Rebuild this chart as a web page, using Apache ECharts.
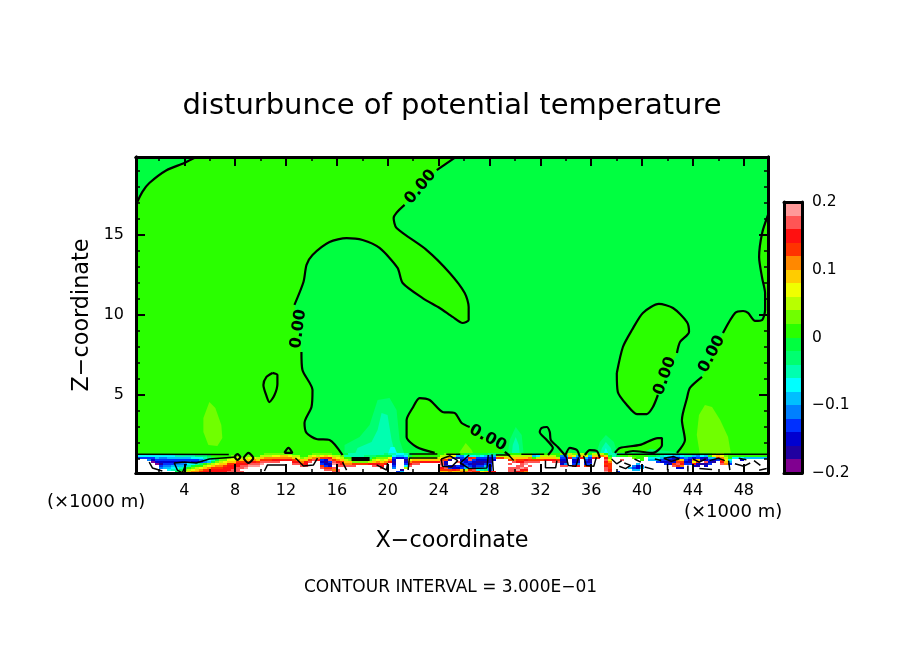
<!DOCTYPE html>
<html lang="en">
<head>
  <meta charset="UTF-8">
  <title>disturbunce of potential temperature</title>
  <script src="https://cdn.jsdelivr.net/npm/echarts@6/dist/echarts.min.js"></script>
  <style>
    html, body { margin: 0; padding: 0; background: #ffffff; }
    #chart { width: 904px; height: 654px; }
  </style>
</head>
<body>
  <div id="chart"></div>

  <script>
    const chart = echarts.init(document.getElementById('chart'), null, { renderer: 'canvas' });

    const FONT = 'DejaVu Sans';

    // axis extents and ticks (x and z in km)
    const xRange = [0.2, 49.9];
    const zRange = [0.125, 19.875];
    const xMajor = [4, 8, 12, 16, 20, 24, 28, 32, 36, 40, 44, 48];
    const xMinor = [2, 6, 10, 14, 18, 22, 26, 30, 34, 38, 42, 46];
    const zMajor = [5, 10, 15];
    const zMinor = [1, 2, 3, 4, 6, 7, 8, 9, 11, 12, 13, 14, 16, 17, 18, 19];

    // colour levels, lowest first, 0.02 wide each
    const levelBounds = [-0.2, -0.18, -0.16, -0.14, -0.12, -0.1, -0.08, -0.06, -0.04, -0.02, 0,
      0.02, 0.04, 0.06, 0.08, 0.1, 0.12, 0.14, 0.16, 0.18, 0.2];
    const levelColors = ['#800090', '#2000a0', '#0000d0', '#0030ff', '#0080ff', '#00bfff', '#00ffff',
      '#00ffb0', '#00ff70', '#00ff40', '#2aff00', '#70ff00', '#b8ff00', '#f0ff00', '#ffcc00',
      '#ff8800', '#ff3300', '#ff1010', '#ff5555', '#ff9999'];
    const colorbarTicks = [-0.2, -0.1, 0, 0.1, 0.2];

    // zero contours, [x, z]
    const contourCorner = [[0.2, 16.9], [0.7, 17.7], [1.25, 18.25], [2.6, 19.05], [4, 19.5], [5, 19.9]];
    const contourLobeTop = [[25.4, 19.9], [23.85, 19.05]];
    const contourLobe = [[21.32, 16.88], [20.46, 16.06], [20.69, 15.44], [23.06, 14.06], [24.87, 12.63],
      [26.05, 11.38], [26.36, 10.5], [26.36, 9.69], [25.89, 9.5], [25.1, 9.88], [24.08, 10.44],
      [22.74, 11.06], [21.17, 12], [20.77, 12.94], [19.35, 14.19], [18.02, 14.69], [16.76, 14.81],
      [15.42, 14.56], [14.08, 13.75], [13.61, 13.13], [13.37, 12.06], [12.66, 10.63]];
    const contourLobeLow = [[13.21, 7.69], [13.29, 6.56], [14.08, 5.31], [14, 4.25], [13.45, 3.25],
      [13.61, 2.63], [14.39, 2.25], [15.42, 2.19], [16.44, 1.25]];
    const contourIsle = [[10.93, 6.38], [11.32, 6.25], [11.32, 5.69], [11.09, 5], [10.69, 4.56],
      [10.46, 4.94], [10.22, 5.63], [10.46, 6.13], [10.93, 6.38]];
    const contourMid = [[23.69, 1.38], [22.27, 1.75], [21.48, 2.38], [21.48, 3.44], [21.95, 4.19],
      [22.5, 4.81], [23.29, 4.69], [24.31, 3.94], [25.26, 3.88], [25.81, 3.25], [26.44, 3]];
    const contourMidEnd = [[29.2, 1.44], [29.6, 1.2]];
    const contourWiggle = [[33.92, 1.25], [33.37, 1.75], [32.82, 2.19], [32.74, 2.69], [32.5, 3],
      [32.11, 2.94], [31.95, 2.69], [32.5, 2.19], [32.98, 1.69], [32.6, 1.25]];
    const contourArcA = [[33.92, 1.13], [34.32, 1.69], [34.87, 1.56], [35.1, 1.13]];
    const contourArcB = [[35.5, 1.25], [35.89, 1.56], [36.44, 1.5], [36.68, 1.06]];
    const contourOvalTop = [[38.01, 6.38], [38.49, 8], [39.2, 9.06], [40.06, 10.13], [41.32, 10.69],
      [42.43, 10.44], [43.53, 9.56], [43.69, 8.94], [42.98, 8.31], [42.74, 7.63]];
    const contourOvalLow = [[41.24, 5], [40.85, 4.25], [40.37, 3.81], [39.59, 3.81], [38.8, 4.38],
      [38.09, 5.19], [38.01, 6.38]];
    const contourRightTop = [[49.9, 16.25], [49.44, 15.13], [49.2, 13.63], [49.44, 12.31], [49.67, 11.38],
      [49.67, 10.31], [49.44, 9.69], [48.88, 9.63], [48.33, 10.13], [47.94, 10.25], [47.31, 10.13],
      [46.36, 8.88]];
    const contourRightLow = [[44.71, 6.13], [43.76, 5.44], [43.53, 4.81], [43.13, 3.44], [43.37, 2.19],
      [42.74, 1.38]];
    const contourFoot = [[37.86, 1.38], [38.25, 1.69], [39.83, 1.88], [41.24, 2.31], [41.56, 2.31],
      [41.56, 1.88], [40.85, 1.38], [39.28, 1.5], [38.65, 1.38]];
    const contourBumpA = [[11.87, 1.38], [12.19, 1.69], [12.5, 1.38], [11.87, 1.38]];
    const contourBumpB = [[7.94, 1.13], [8.17, 1.31], [8.41, 1.13], [8.17, 0.94], [7.94, 1.13]];
    const contourBumpC = [[8.65, 1.06], [9.04, 1.38], [9.43, 1.06], [9.04, 0.75], [8.65, 1.06]];

    // labels on the contours: x, z, angle
    const contourLabels = [[22.58, 18, 50], [12.98, 9.13, 82], [27.86, 2.31, -28], [41.8, 6.19, 70], [45.48, 7.56, 62]];

    // weak blobs above the surface layer
    const blobLeftWarm = [[5.97, 4.56], [6.44, 4.19], [6.91, 3.13], [6.99, 2.31], [6.6, 1.81], [5.89, 1.88], [5.5, 2.69], [5.5, 3.56]];
    const blobRightWarm = [[44.94, 4.38], [45.5, 4.25], [46.14, 3.44], [46.76, 2.38], [47, 1.25], [44.55, 1.25], [44.3, 2.5], [44.47, 3.75]];
    const blobMidWarm = [[26.13, 2], [26.6, 1.56], [26.76, 1.25], [25.5, 1.25]];
    const blobCoolA1 = [[19.2, 4.69], [20.14, 4.81], [20.69, 4.06], [20.93, 2.19], [21.32, 1.25], [16.6, 1.25], [16.6, 1.88], [17.78, 2.38], [18.57, 3.13]];
    const blobCoolA2 = [[19.51, 3.88], [19.98, 3.75], [20.3, 2.19], [20.61, 1.25], [17.39, 1.25], [17.62, 1.69], [18.72, 2.06], [19.2, 2.81]];
    const blobCoolA3 = [[20.22, 1.75], [20.53, 1.75], [20.77, 1.25], [19.98, 1.25]];
    const blobCoolB1 = [[30.06, 3], [30.53, 2.5], [30.69, 1.25], [29.43, 1.25], [29.59, 2.19]];
    const blobCoolB2 = [[30.06, 2.38], [30.3, 1.88], [30.38, 1.25], [29.75, 1.25], [29.83, 1.88]];
    const blobCoolC1 = [[37.15, 2.5], [37.78, 2.06], [38.09, 1.25], [36.36, 1.25], [36.68, 2.06]];
    const blobCoolC2 = [[37.15, 2.06], [37.54, 1.69], [37.7, 1.25], [36.68, 1.25], [36.84, 1.69]];
    const blobCoolC3 = [[37.15, 1.69], [37.4, 1.25], [36.92, 1.25]];
    const blobCoolD = [[40.6, 1.63], [42.6, 1.44], [42.66, 1.25], [39.83, 1.25]];

    // surface layer: one string per column, top to bottom, a = lowest level, t = highest, . = off scale
    const layerX0 = 0.15;
    const layerDx = 0.315;
    const layerZTop = 1.375;
    const layerDz = 0.125;
    const layerColumns = [
      'kgd.......', 'kgd.......', 'kgd.......', 'kgde......', 'kgdca.....', 'kgfdca....', 'kgedcbde..', 'kgedcdef..',
      'kgfdcdefg.', 'kgfdcdfgh.', 'khfdcefghj', 'khfdcefhjl', 'khfddefjlm', 'khfddghkmo', 'khgdcgjlnp', 'kigdchkmop',
      'kigediknpq', 'kihfekmoqr', 'kjigflnpqr', 'kkjhjmoqrr', 'kkkjlnpqrr', 'kkklmopqrr', 'kkklnoqrrr', 'kklnoqrrrs',
      'klmnoqrrss', 'klnoqrrsss', 'kkmoqrss.s', 'klmoqrst..', 'klnoqst...', 'kknprst...', 'kkmoqst...', 'kmoqst....',
      'lmpqs.....', 'lmpqs.....', 'lnprs.....', 'lnprs.....', 'lopr......', 'lopr......', 'lnpr......', 'kmoqrs....',
      'kmnprs....', 'kklopqs...', 'kkmorrs...', 'kmoqs.....', 'lnps......', 'lmpr......', 'lnqdcdqs..', 'loqcbcdqs.',
      'lnrsdbcqs.', 'kmoqst.sps', 'kmnprss.ss', 'jlmoqrs...', 'jhkmops...', 'hhklops...', 'hhhjlqs...', 'hhhjlq....',
      'hhijlq....', 'hiiklq....', 'hiikmr....', 'hikmors...', 'hjlnprs...', 'hjlmoqrs..', 'ijlnpr....', 'hjnpr.....',
      'hgdcbcde..', 'gfc......d', 'gfc.....bf', 'hgdbcdgm..', 'ijlnprs...', 'jkmoqs....', 'kkmoqs....', 'kkmor.....',
      'kkmor.....', 'kkmor.....', 'kkmor.....', 'kkmor.....', 'kmnqsstrqo', 'lmoqcbdsqo', 'lnpb..cdqp', 'lnd...bcro',
      'kfb.s.dcqo', 'kedcdbcdop', 'jgeccdefmp', 'jgrsdcdfqs', 'jgqdcbcdsq', 'jhdcbcdfgq', 'jgdcbbdfhn', 'jfdcbdfgio',
      'iecbbdcddr', 'ifdc.....r', 'jmq.......', 'jmq.......', 'kmo.......', 'kmoq.s.sss', 'kmops..sss', 'kmoqr.sstr',
      'kmoqrsstrq', 'kmorst.srp', 'kmpqs.s...', 'ifkqs.....', 'jgmqs.....', 'kmoq......', 'kmor......', 'kmor......',
      'kmors.....', 'kkmqs.....', 'ledcbcs...', 'lfdcbes...', 'mor.......', 'lneccdr...', 'lfdbcer...', 'mor.......',
      'lnfdcdq...', 'kfdbbdq...', 'mor.......', 'mor.......', 'mp........', 'korsrqrsst', 'hjlnpqqqrq', 'hh........',
      'hj.......d', 'hk.s......', 'jk........', 'jl.....f..', 'jkl...edf.', 'jkk..fccf.', 'jkkk..ef..', 'jk........',
      'jjgf......', 'jjgf......', 'jigfd.....', 'jhfdc.....', 'jgedcd....', 'jgdcbc....', 'jfcbcqs...', 'jfcpqsqc..',
      'jgdoqrpc..', 'jhedcd....', 'khdcbd....', 'kfcpnrc...', 'kedoqcb...', 'kgcb.b....', 'kfbcsbc...', 'kkfdcd....',
      'lnfcb.....', 'moqd......', 'mnpqrs....', 'klmnop....', 'kkkgfd....', 'kkg.......', 'kkg.......', 'kkgc......',
      'kkf.......', 'kkf.......', 'kkf.......', 'kkf.......', 'kkf.......', 'kkf.......'
    ];

    // short contour bits inside the surface layer
    const layerLines = [
      [[0.2, 1.3], [7.5, 1.28]],
      [[8.09, 1.13], [5.97, 1], [4.94, 0.75], [4, 0.81], [3.21, 0.75], [3.45, 0.31], [3.84, 0.13], [4.15, 0.69]],
      [[1.24, 0.81], [1.49, 0.44], [2.27, 0.25]],
      [[10.3, 0.25], [10.54, 0.63], [12.03, 0.63]],
      [[12.74, 1.06], [13.37, 0.56], [14.16, 0.63], [14.47, 1.06]],
      [[16.44, 0.81], [16.76, 0.31]],
      [[19.12, 0.63], [19.9, 0.31], [19.98, 0.75]],
      [[21.6, 0.31], [21.7, 1.06], [23.9, 1.06]],
      [[21.7, 1.31], [23.9, 1.31]],
      [[24.6, 1.3], [25.7, 1.3]],
      [[26.4, 1.25], [25.7, 0.75], [26.4, 0.4], [27.8, 0.44], [27.9, 1.25]],
      [[24.2, 1], [24.9, 1.2], [25.5, 0.9], [25, 0.5], [24.3, 0.55], [24.2, 1]],
      [[28.2, 1.3], [28.3, 0.25]],
      [[28.5, 1.25], [29.5, 1.25], [29.9, 0.9]],
      [[30.5, 1.3], [32.3, 1.3]],
      [[32.4, 0.9], [32.4, 0.45], [33.2, 0.45], [33.3, 0.9]],
      [[34, 1.2], [34.2, 0.6], [34.8, 0.55], [35, 1.1]],
      [[35.4, 1.2], [35.6, 0.6], [36.2, 0.55], [36.4, 1.1]],
      [[38, 1.3], [49.9, 1.3]],
      [[37.6, 1], [38, 0.7], [38.4, 0.9]],
      [[38.2, 0.55], [38.7, 0.4], [39.1, 0.6], [38.6, 0.75]],
      [[39.4, 1], [39.9, 0.8]],
      [[40.2, 0.5], [40.9, 0.35]],
      [[41, 1], [41.5, 0.9]],
      [[42, 0.7], [42, 0.3]],
      [[41.7, 1.05], [42.3, 0.85], [42.9, 1], [42.5, 1.15], [41.7, 1.05]],
      [[43.6, 0.6], [43.6, 0.2]],
      [[44, 1], [44.5, 0.8], [45, 1]],
      [[44.5, 0.4], [45.5, 0.35]],
      [[45.3, 0.9], [46, 1.05], [46.5, 0.9]],
      [[46.8, 0.9], [46.9, 0.3]],
      [[47.3, 0.7], [48, 0.55], [48.5, 0.75]],
      [[47.6, 1.05], [48.2, 0.95]],
      [[48.8, 0.9], [49.3, 0.6]],
      [[49.2, 0.3], [49.8, 0.4]]
    ];
    const layerBars = [[[17.15, 1], [18.57, 1]]];

    // level indexes into levelColors
    const WARM = 10, WARM2 = 11, COOL1 = 8, COOL2 = 7, COOL3 = 6;

    const fillRegions = [
      { level: WARM, pts: [...contourCorner, ...contourLobeTop, ...contourLobe, ...contourLobeLow, [16.44, 0.5], [0.2, 0.5]] },
      { level: WARM, pts: [...contourMid, ...contourMidEnd, [29.6, 0.5], [23.69, 0.5]] },
      { level: WARM, pts: [...contourOvalTop, ...contourOvalLow] },
      { level: WARM, pts: [...contourRightTop, ...contourRightLow, [42.74, 0.5], [49.9, 0.5]] },
      { level: WARM, pts: contourFoot },
      { level: WARM2, pts: blobLeftWarm },
      { level: WARM2, pts: blobRightWarm },
      { level: WARM2, pts: blobMidWarm },
      { level: COOL1, pts: blobCoolA1 },
      { level: COOL2, pts: blobCoolA2 },
      { level: COOL3, pts: blobCoolA3 },
      { level: COOL1, pts: blobCoolB1 },
      { level: COOL2, pts: blobCoolB2 },
      { level: COOL1, pts: blobCoolC1 },
      { level: COOL2, pts: blobCoolC2 },
      { level: COOL3, pts: blobCoolC3 },
      { level: COOL1, pts: blobCoolD }
    ];

    const contourGroups = [contourCorner, contourLobeTop, contourLobe, contourLobeLow, contourIsle, contourMid,
      contourMidEnd, contourWiggle, contourArcA, contourArcB, contourOvalTop, contourOvalLow, contourRightTop,
      contourRightLow, contourFoot, contourBumpA, contourBumpB, contourBumpC];

    function withGaps(groups) {
      const out = [];
      groups.forEach(g => { out.push(...g); out.push([null, null]); });
      return out;
    }

    const layerCells = [];
    layerColumns.forEach((col, i) => {
      for (let r = 0; r < col.length; r++) {
        const ch = col[r];
        layerCells.push([layerX0 + i * layerDx, layerZTop - r * layerDz, ch === '.' ? -1 : ch.charCodeAt(0) - 97]);
      }
    });

    // all four sides of a frame, ticks pointing inward
    function frameAxis(pos, gridIndex, range, ticks, tickLen, extra) {
      return Object.assign({
        type: 'value', gridIndex: gridIndex, position: pos, min: range[0], max: range[1], z: 10,
        splitLine: { show: false },
        axisLine: { show: true, onZero: false, lineStyle: { color: '#000', width: 3 } },
        axisTick: ticks.length
          ? { show: true, inside: true, length: tickLen, customValues: ticks, lineStyle: { color: '#000', width: tickLen > 5 ? 2 : 1.5 } }
          : { show: false },
        axisLabel: { show: false }
      }, extra || {});
    }

    const tickText = { show: true, color: '#000', fontFamily: FONT, fontSize: 16, padding: [3, 0, 0, 0] };

    const option = {
      animation: false,
      backgroundColor: '#ffffff',
      title: {
        text: 'disturbunce of potential temperature',
        left: 447, top: 87, textAlign: 'center',
        textStyle: { color: '#000', fontFamily: FONT, fontWeight: 'normal', fontSize: 29 }
      },
      grid: [
        { left: 136, top: 157, width: 632, height: 316, show: true, backgroundColor: levelColors[9], borderWidth: 0 },
        { left: 784, top: 202, width: 18, height: 271 }
      ],
      xAxis: [
        frameAxis('bottom', 0, xRange, xMajor, 9, {
          name: 'X\u2212coordinate', nameLocation: 'middle', nameGap: 57,
          nameTextStyle: { color: '#000', fontFamily: FONT, fontSize: 22.3 },
          axisLabel: Object.assign({ customValues: xMajor, margin: 7 }, tickText)
        }),
        frameAxis('bottom', 0, xRange, xMinor, 4),
        frameAxis('top', 0, xRange, xMajor, 9),
        frameAxis('top', 0, xRange, xMinor, 4),
        frameAxis('bottom', 1, [0, 1], [], 0),
        frameAxis('top', 1, [0, 1], [], 0)
      ],
      yAxis: [
        frameAxis('left', 0, zRange, zMajor, 9, {
          name: 'Z\u2212coordinate', nameLocation: 'middle', nameGap: 40,
          nameTextStyle: { color: '#000', fontFamily: FONT, fontSize: 22.3 },
          axisLabel: Object.assign({ customValues: zMajor, margin: 12 }, tickText)
        }),
        frameAxis('left', 0, zRange, zMinor, 4),
        frameAxis('right', 0, zRange, zMajor, 9),
        frameAxis('right', 0, zRange, zMinor, 4),
        frameAxis('left', 1, [-0.2, 0.2], [], 0),
        frameAxis('right', 1, [-0.2, 0.2], [], 0, {
          axisLabel: Object.assign({}, tickText, {
            customValues: colorbarTicks, margin: 10, fontSize: 15.5,
            formatter: v => String(v).replace('-', '\u2212')
          })
        })
      ],
      series: [
        {
          name: 'fill', type: 'custom', clip: true, z: 2, silent: true,
          coordinateSystem: 'cartesian2d', xAxisIndex: 0, yAxisIndex: 0,
          data: fillRegions.map((r, i) => [r.pts[0][0], r.pts[0][1], i]),
          renderItem: (params, api) => {
            const region = fillRegions[api.value(2)];
            return {
              type: 'polygon',
              shape: { points: region.pts.map(p => api.coord(p)) },
              style: { fill: levelColors[region.level] }
            };
          }
        },
        {
          name: 'layer', type: 'custom', clip: true, z: 3, silent: true,
          coordinateSystem: 'cartesian2d', xAxisIndex: 0, yAxisIndex: 0,
          data: layerCells,
          encode: { x: 0, y: 1 },
          renderItem: (params, api) => {
            const a = api.coord([api.value(0), api.value(1)]);
            const b = api.coord([api.value(0) + layerDx, api.value(1) - layerDz]);
            const lv = api.value(2);
            return {
              type: 'rect',
              shape: { x: Math.round(a[0]), y: Math.round(a[1]), width: Math.round(b[0]) - Math.round(a[0]), height: Math.round(b[1]) - Math.round(a[1]) },
              style: { fill: lv < 0 ? '#ffffff' : levelColors[lv] }
            };
          }
        },
        {
          name: 'contour', type: 'line', z: 4, silent: true, symbol: 'none', smooth: 0.25, connectNulls: false,
          xAxisIndex: 0, yAxisIndex: 0,
          lineStyle: { color: '#000', width: 2.2 },
          data: withGaps(contourGroups)
        },
        {
          name: 'layer contour', type: 'line', z: 4, silent: true, symbol: 'none', connectNulls: false,
          xAxisIndex: 0, yAxisIndex: 0,
          lineStyle: { color: '#000', width: 1.5 },
          data: withGaps(layerLines)
        },
        {
          name: 'layer bar', type: 'line', z: 4, silent: true, symbol: 'none', connectNulls: false,
          xAxisIndex: 0, yAxisIndex: 0,
          lineStyle: { color: '#000', width: 4 },
          data: withGaps(layerBars)
        },
        {
          name: 'contour labels', type: 'custom', z: 5, silent: true,
          coordinateSystem: 'cartesian2d', xAxisIndex: 0, yAxisIndex: 0,
          data: contourLabels,
          renderItem: (params, api) => {
            const c = api.coord([api.value(0), api.value(1)]);
            return {
              type: 'text', x: c[0], y: c[1], rotation: api.value(2) * Math.PI / 180,
              style: { text: '0.00', fontFamily: FONT, fontSize: 16, fontWeight: 'bold', fill: '#000', align: 'center', verticalAlign: 'middle' }
            };
          }
        },
        {
          name: 'colorbar', type: 'custom', z: 2, silent: true,
          coordinateSystem: 'cartesian2d', xAxisIndex: 4, yAxisIndex: 4,
          data: levelColors.map((c, i) => [0, levelBounds[i], i]),
          renderItem: (params, api) => {
            const i = api.value(2);
            const a = api.coord([0, levelBounds[i + 1]]);
            const b = api.coord([1, levelBounds[i]]);
            return {
              type: 'rect',
              shape: { x: a[0], y: Math.round(a[1]), width: b[0] - a[0], height: Math.round(b[1]) - Math.round(a[1]) },
              style: { fill: levelColors[i] }
            };
          }
        }
      ],
      graphic: [
        { type: 'text', left: 47, top: 493, style: { text: '(\u00d71000 m)', fontFamily: FONT, fontSize: 18, fill: '#000' } },
        { type: 'text', left: 684, top: 503, style: { text: '(\u00d71000 m)', fontFamily: FONT, fontSize: 18, fill: '#000' } },
        { type: 'text', left: 304, top: 579, style: { text: 'CONTOUR INTERVAL = 3.000E\u221201', fontFamily: FONT, fontSize: 17, fill: '#000' } }
      ]
    };

    chart.setOption(option);
  </script>
</body>
</html>
